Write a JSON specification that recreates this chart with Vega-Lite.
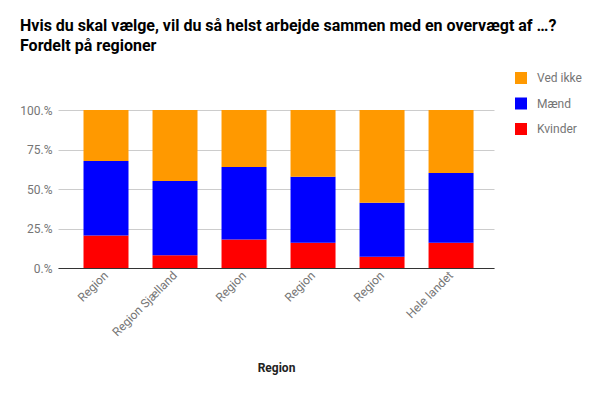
{
  "$schema": "https://vega.github.io/schema/vega-lite/v6.json",
  "width": 436,
  "height": 158,
  "autosize": {"type": "none"},
  "padding": {"left": 58, "top": 110, "right": 106, "bottom": 127},
  "background": "white",
  "title": {
    "text": ["Hvis du skal vælge, vil du så helst arbejde sammen med en overvægt af …?", "Fordelt på regioner"],
    "anchor": "start",
    "frame": "group",
    "font": "Roboto",
    "fontSize": 16,
    "fontWeight": "bold",
    "color": "#000000",
    "dx": -38,
    "offset": 18,
    "lineHeight": 20
  },
  "data": {
    "values": [
      {"Region": "Region Hovedstaden", "Svar": "Kvinder", "Andel": 20.6},
      {"Region": "Region Hovedstaden", "Svar": "Mænd", "Andel": 47.2},
      {"Region": "Region Hovedstaden", "Svar": "Ved ikke", "Andel": 32.2},
      {"Region": "Region Sjælland", "Svar": "Kvinder", "Andel": 8.0},
      {"Region": "Region Sjælland", "Svar": "Mænd", "Andel": 47.1},
      {"Region": "Region Sjælland", "Svar": "Ved ikke", "Andel": 44.9},
      {"Region": "Region Syddanmark", "Svar": "Kvinder", "Andel": 18.1},
      {"Region": "Region Syddanmark", "Svar": "Mænd", "Andel": 45.9},
      {"Region": "Region Syddanmark", "Svar": "Ved ikke", "Andel": 36.0},
      {"Region": "Region Midtjylland", "Svar": "Kvinder", "Andel": 16.0},
      {"Region": "Region Midtjylland", "Svar": "Mænd", "Andel": 41.7},
      {"Region": "Region Midtjylland", "Svar": "Ved ikke", "Andel": 42.3},
      {"Region": "Region Nordjylland", "Svar": "Kvinder", "Andel": 7.1},
      {"Region": "Region Nordjylland", "Svar": "Mænd", "Andel": 34.2},
      {"Region": "Region Nordjylland", "Svar": "Ved ikke", "Andel": 58.7},
      {"Region": "Hele landet", "Svar": "Kvinder", "Andel": 16.0},
      {"Region": "Hele landet", "Svar": "Mænd", "Andel": 44.2},
      {"Region": "Hele landet", "Svar": "Ved ikke", "Andel": 39.8}
    ]
  },
  "mark": {"type": "bar"},
  "encoding": {
    "x": {
      "field": "Region",
      "type": "nominal",
      "sort": null,
      "scale": {"paddingInner": 0.348, "paddingOuter": 0.333, "align": 0.555},
      "axis": {
        "title": "Region",
        "labelAngle": -45,
        "labelAlign": "right",
        "labelBaseline": "middle",
        "labelPadding": 5,
        "labelFont": "Roboto",
        "labelFontSize": 12,
        "labelColor": "#757575",
        "labelExpr": "(datum.label == 'Region Sjælland' || datum.label == 'Hele landet') ? datum.label : 'Region'",
        "ticks": false,
        "domainColor": "#333333",
        "titleFont": "Roboto",
        "titleFontSize": 12,
        "titleFontWeight": "bold",
        "titleColor": "#222222",
        "titleY": 99,
        "titleBaseline": "middle"
      }
    },
    "y": {
      "field": "Andel",
      "type": "quantitative",
      "stack": "normalize",
      "axis": {
        "title": null,
        "values": [0, 0.25, 0.5, 0.75, 1],
        "labelExpr": "format(datum.value * 100, 'd') + '.%'",
        "domain": false,
        "ticks": false,
        "labelPadding": 6,
        "labelFont": "Roboto",
        "labelFontSize": 12,
        "labelColor": "#757575",
        "gridColor": "#cccccc"
      }
    },
    "color": {
      "field": "Svar",
      "type": "nominal",
      "scale": {"domain": ["Ved ikke", "Mænd", "Kvinder"], "range": ["#ff9900", "#0000ff", "#ff0000"]},
      "legend": {
        "title": null,
        "orient": "none",
        "legendX": 457,
        "legendY": -38,
        "symbolType": "square",
        "symbolSize": 144,
        "symbolStrokeWidth": 0,
        "symbolOpacity": 1,
        "labelFont": "Roboto",
        "labelFontSize": 12,
        "labelColor": "#757575",
        "labelOffset": 10,
        "rowPadding": 13.5
      }
    },
    "order": {"field": "Svar", "sort": "ascending"}
  },
  "config": {"view": {"stroke": null}}
}
